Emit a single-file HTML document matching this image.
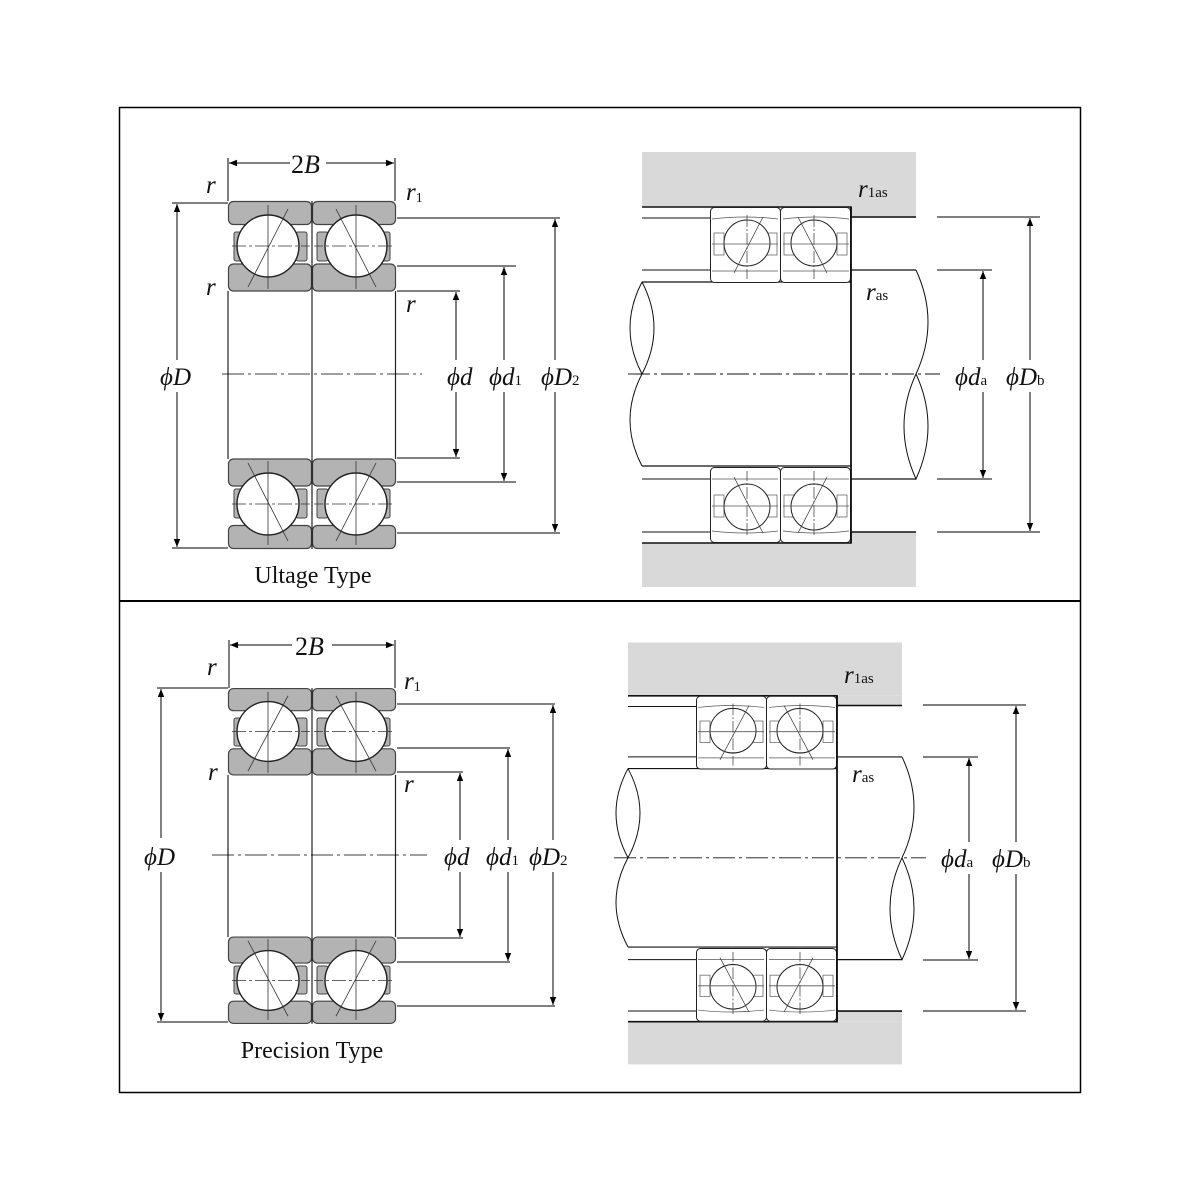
<!DOCTYPE html>
<html><head><meta charset="utf-8"><style>
html,body{margin:0;padding:0;background:#fff}
svg{display:block}
text{font-family:"Liberation Serif",serif;fill:#111}
.it{font-style:italic}
</style></head><body>
<svg width="1200" height="1200" viewBox="0 0 1200 1200" xmlns="http://www.w3.org/2000/svg">
<defs>
<marker id="ah" viewBox="0 0 10 10" refX="10" refY="5" markerWidth="8" markerHeight="11" markerUnits="userSpaceOnUse" orient="auto-start-reverse"><path d="M0,1 L10,5 L0,9 Z" fill="#000"/></marker>
<g id="cell">
  <rect x="0.5" y="0.5" width="83" height="23" rx="5" fill="#b3b3b3" stroke="#444" stroke-width="1.2"/>
  <rect x="0.5" y="63" width="83" height="27" rx="5" fill="#b3b3b3" stroke="#444" stroke-width="1.2"/>
  <rect x="6" y="31" width="11" height="29" rx="2" fill="#b3b3b3" stroke="#444"/>
  <rect x="68" y="31" width="11" height="29" rx="2" fill="#b3b3b3" stroke="#444"/>
  <circle cx="40" cy="45" r="31" fill="#fff" stroke="#222" stroke-width="1.4"/>
  <line x1="40" y1="4" x2="40" y2="88" stroke="#333" stroke-width="0.8"/>
  <line x1="60" y1="8" x2="20" y2="86" stroke="#333" stroke-width="0.8"/>
  <line x1="4" y1="45" x2="82" y2="45" stroke="#333" stroke-width="0.8" stroke-dasharray="14,3,3,3"/>
</g>
<g id="cell2">
  <rect x="0.5" y="0.5" width="70" height="75" rx="4" fill="#fff" stroke="#222" stroke-width="1"/>
  <path d="M2,12 Q35,8 68,12 M2,64 L68,64" stroke="#555" fill="none" stroke-width="0.7"/>
  <rect x="4" y="26" width="10" height="22" fill="#fff" stroke="#555" stroke-width="0.7"/>
  <rect x="57" y="26" width="10" height="22" fill="#fff" stroke="#555" stroke-width="0.7"/>
  <circle cx="37" cy="36" r="23" fill="#fff" stroke="#222" stroke-width="1"/>
  <line x1="37" y1="8" x2="37" y2="72" stroke="#333" stroke-width="0.7" stroke-dasharray="12,2,2,2"/>
  <line x1="53" y1="10" x2="24" y2="66" stroke="#333" stroke-width="0.7"/>
  <line x1="2" y1="37" x2="68" y2="37" stroke="#555" stroke-width="0.8"/>
</g>
<g id="left">
  <use href="#cell" transform="translate(228,201)"/>
  <use href="#cell" transform="translate(396,201) scale(-1,1)"/>
  <use href="#cell" transform="translate(228,549) scale(1,-1)"/>
  <use href="#cell" transform="translate(396,549) scale(-1,-1)"/>
  <line x1="228" y1="291" x2="228" y2="459" stroke="#222" stroke-width="1.2"/>
  <line x1="312" y1="201" x2="312" y2="549" stroke="#222" stroke-width="1.2"/>
  <line x1="395.5" y1="291" x2="395.5" y2="459" stroke="#222" stroke-width="1.2"/>
</g>
<g id="right" stroke="#111" fill="none">
  <rect x="642" y="152" width="274" height="55" fill="#d9d9d9" stroke="none"/>
  <rect x="851" y="207" width="65" height="11" fill="#d9d9d9" stroke="none"/>
  <rect x="642" y="543" width="274" height="44" fill="#d9d9d9" stroke="none"/>
  <rect x="851" y="532" width="65" height="11" fill="#d9d9d9" stroke="none"/>
  <path d="M642,207 H851 V217 H916" stroke-width="1.6"/>
  <path d="M642,543 H851 V532 H916" stroke-width="1.6"/>
  <line x1="642" y1="218" x2="710" y2="218"/>
  <line x1="642" y1="270" x2="710" y2="270"/>
  <line x1="642" y1="479" x2="710" y2="479"/>
  <line x1="642" y1="532" x2="710" y2="532"/>
  <path d="M642,282 H851 M642,466 H851 M851,270 H916 M851,479 H916" stroke-width="1.2"/>
  <path d="M642,282 Q618,328 642,374 Q666,328 642,282 M642,374 Q618,420 642,466" stroke-width="1"/>
  <path d="M916,270 Q940,322 916,374 M916,374 Q892,426 916,479 Q940,426 916,374" stroke-width="1"/>
  <use href="#cell2" transform="translate(710,207)"/>
  <use href="#cell2" transform="translate(851,207) scale(-1,1)"/>
  <use href="#cell2" transform="translate(710,543) scale(1,-1)"/>
  <use href="#cell2" transform="translate(851,543) scale(-1,-1)"/>
  <line x1="851" y1="207" x2="851" y2="543" stroke-width="1.8"/>
  <line x1="628" y1="374" x2="940" y2="374" stroke-width="0.9" stroke-dasharray="22,4,3,4"/>
</g>
</defs>

<rect x="119.5" y="107.5" width="961" height="985" fill="none" stroke="#000" stroke-width="1.5"/>
<line x1="119" y1="601" x2="1081" y2="601" stroke="#000" stroke-width="2"/>

<!-- TOP LEFT -->
<use href="#left"/>
<g stroke="#000" stroke-width="1" fill="none">
  <line x1="228" y1="158" x2="228" y2="201"/><line x1="395" y1="158" x2="395" y2="201"/>
  <line x1="229" y1="163" x2="290" y2="163" marker-start="url(#ah)"/>
  <line x1="326" y1="163" x2="394" y2="163" marker-end="url(#ah)"/>
  <line x1="172" y1="203" x2="228" y2="203"/><line x1="172" y1="548" x2="228" y2="548"/>
  <line x1="177" y1="204" x2="177" y2="360" marker-start="url(#ah)"/>
  <line x1="177" y1="392" x2="177" y2="547" marker-end="url(#ah)"/>
  <line x1="222" y1="374" x2="422" y2="374" stroke-dasharray="22,4,3,4" stroke-width="0.8"/>
  <line x1="397" y1="291" x2="460" y2="291"/><line x1="397" y1="458" x2="460" y2="458"/>
  <line x1="456" y1="292" x2="456" y2="360" marker-start="url(#ah)"/>
  <line x1="456" y1="392" x2="456" y2="457" marker-end="url(#ah)"/>
  <line x1="397" y1="266" x2="516" y2="266"/><line x1="397" y1="482" x2="516" y2="482"/>
  <line x1="504" y1="267" x2="504" y2="360" marker-start="url(#ah)"/>
  <line x1="504" y1="392" x2="504" y2="481" marker-end="url(#ah)"/>
  <line x1="397" y1="218" x2="560" y2="218"/><line x1="397" y1="533" x2="560" y2="533"/>
  <line x1="555" y1="219" x2="555" y2="360" marker-start="url(#ah)"/>
  <line x1="555" y1="392" x2="555" y2="532" marker-end="url(#ah)"/>
</g>
<g font-size="25">
  <text x="291" y="173" font-size="26">2<tspan class="it">B</tspan></text>
  <text x="206" y="193" class="it">r</text>
  <text x="206" y="295" class="it">r</text>
  <text x="406" y="200" class="it">r<tspan font-size="14" font-style="normal" dy="2">1</tspan></text>
  <text x="406" y="312" class="it">r</text>
  <text x="160" y="385" class="it">ϕD</text>
  <text x="447" y="385" class="it">ϕd</text>
  <text x="489" y="385" class="it">ϕd<tspan font-size="15" font-style="normal">1</tspan></text>
  <text x="541" y="385" class="it">ϕD<tspan font-size="15" font-style="normal">2</tspan></text>
  <text x="313" y="583" text-anchor="middle" font-size="24">Ultage Type</text>
</g>

<!-- TOP RIGHT -->
<use href="#right"/>
<g stroke="#000" stroke-width="1" fill="none">
  <line x1="937" y1="270" x2="992" y2="270"/><line x1="937" y1="479" x2="992" y2="479"/>
  <line x1="983" y1="271" x2="983" y2="360" marker-start="url(#ah)"/>
  <line x1="983" y1="392" x2="983" y2="478" marker-end="url(#ah)"/>
  <line x1="937" y1="217" x2="1040" y2="217"/><line x1="937" y1="532" x2="1040" y2="532"/>
  <line x1="1030" y1="218" x2="1030" y2="360" marker-start="url(#ah)"/>
  <line x1="1030" y1="392" x2="1030" y2="531" marker-end="url(#ah)"/>
</g>
<g font-size="25">
  <text x="858" y="197" class="it">r<tspan font-size="15" font-style="normal">1as</tspan></text>
  <text x="866" y="300" class="it">r<tspan font-size="15" font-style="normal">as</tspan></text>
  <text x="955" y="385" class="it">ϕd<tspan font-size="15" font-style="normal">a</tspan></text>
  <text x="1006" y="385" class="it">ϕD<tspan font-size="15" font-style="normal">b</tspan></text>
</g>

<!-- BOTTOM LEFT -->
<g transform="translate(0,855) scale(1,0.965) translate(0,-374)"><use href="#left"/></g>
<g stroke="#000" stroke-width="1" fill="none">
  <line x1="229" y1="640" x2="229" y2="688"/><line x1="395" y1="640" x2="395" y2="688"/>
  <line x1="230" y1="645" x2="292" y2="645" marker-start="url(#ah)"/>
  <line x1="332" y1="645" x2="394" y2="645" marker-end="url(#ah)"/>
  <line x1="157" y1="688" x2="228" y2="688"/><line x1="157" y1="1022" x2="228" y2="1022"/>
  <line x1="161" y1="689" x2="161" y2="838" marker-start="url(#ah)"/>
  <line x1="161" y1="872" x2="161" y2="1021" marker-end="url(#ah)"/>
  <line x1="212" y1="855" x2="427" y2="855" stroke-dasharray="22,4,3,4" stroke-width="0.8"/>
  <line x1="397" y1="772" x2="463" y2="772"/><line x1="397" y1="938" x2="463" y2="938"/>
  <line x1="460" y1="773" x2="460" y2="840" marker-start="url(#ah)"/>
  <line x1="460" y1="872" x2="460" y2="937" marker-end="url(#ah)"/>
  <line x1="397" y1="748" x2="510" y2="748"/><line x1="397" y1="962" x2="510" y2="962"/>
  <line x1="508" y1="749" x2="508" y2="840" marker-start="url(#ah)"/>
  <line x1="508" y1="872" x2="508" y2="961" marker-end="url(#ah)"/>
  <line x1="397" y1="704" x2="555" y2="704"/><line x1="397" y1="1006" x2="555" y2="1006"/>
  <line x1="553" y1="705" x2="553" y2="840" marker-start="url(#ah)"/>
  <line x1="553" y1="872" x2="553" y2="1005" marker-end="url(#ah)"/>
</g>
<g font-size="25">
  <text x="295" y="655" font-size="26">2<tspan class="it">B</tspan></text>
  <text x="207" y="675" class="it">r</text>
  <text x="208" y="780" class="it">r</text>
  <text x="404" y="689" class="it">r<tspan font-size="14" font-style="normal" dy="2">1</tspan></text>
  <text x="404" y="792" class="it">r</text>
  <text x="144" y="865" class="it">ϕD</text>
  <text x="444" y="865" class="it">ϕd</text>
  <text x="486" y="865" class="it">ϕd<tspan font-size="15" font-style="normal">1</tspan></text>
  <text x="529" y="865" class="it">ϕD<tspan font-size="15" font-style="normal">2</tspan></text>
  <text x="312" y="1058" text-anchor="middle" font-size="24">Precision Type</text>
</g>

<!-- BOTTOM RIGHT -->
<g transform="translate(-14,495) scale(1,0.97)"><use href="#right"/></g>
<g stroke="#000" stroke-width="1" fill="none">
  <line x1="923" y1="757" x2="978" y2="757"/><line x1="923" y1="960" x2="978" y2="960"/>
  <line x1="969" y1="758" x2="969" y2="842" marker-start="url(#ah)"/>
  <line x1="969" y1="874" x2="969" y2="959" marker-end="url(#ah)"/>
  <line x1="923" y1="705" x2="1026" y2="705"/><line x1="923" y1="1011" x2="1026" y2="1011"/>
  <line x1="1016" y1="706" x2="1016" y2="842" marker-start="url(#ah)"/>
  <line x1="1016" y1="874" x2="1016" y2="1010" marker-end="url(#ah)"/>
</g>
<g font-size="25">
  <text x="844" y="683" class="it">r<tspan font-size="15" font-style="normal">1as</tspan></text>
  <text x="852" y="782" class="it">r<tspan font-size="15" font-style="normal">as</tspan></text>
  <text x="941" y="867" class="it">ϕd<tspan font-size="15" font-style="normal">a</tspan></text>
  <text x="992" y="867" class="it">ϕD<tspan font-size="15" font-style="normal">b</tspan></text>
</g>
</svg>
</body></html>
